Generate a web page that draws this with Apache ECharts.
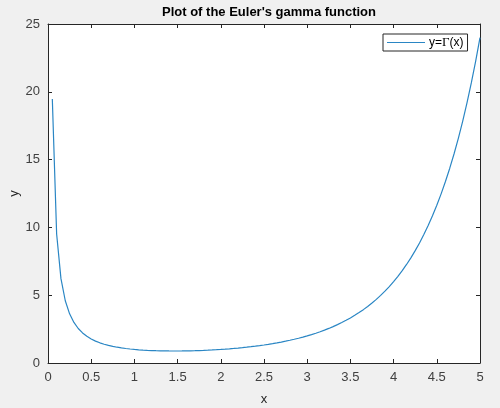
<!DOCTYPE html>
<html><head><meta charset="utf-8">
<script src="https://cdn.jsdelivr.net/npm/echarts@6/dist/echarts.min.js"></script>
<style>html,body{margin:0;padding:0;background:#f0f0f0;}#c{width:500px;height:408px;}</style>
</head><body><div id="c"></div>
<script>
const xValues = [0.05,0.10,0.15,0.20,0.25,0.30,0.35,0.40,0.45,0.50,0.55,0.60,0.65,0.70,0.75,0.80,0.85,0.90,0.95,1.00,
1.05,1.10,1.15,1.20,1.25,1.30,1.35,1.40,1.45,1.50,1.55,1.60,1.65,1.70,1.75,1.80,1.85,1.90,1.95,2.00,
2.05,2.10,2.15,2.20,2.25,2.30,2.35,2.40,2.45,2.50,2.55,2.60,2.65,2.70,2.75,2.80,2.85,2.90,2.95,3.00,
3.05,3.10,3.15,3.20,3.25,3.30,3.35,3.40,3.45,3.50,3.55,3.60,3.65,3.70,3.75,3.80,3.85,3.90,3.95,4.00,
4.05,4.10,4.15,4.20,4.25,4.30,4.35,4.40,4.45,4.50,4.55,4.60,4.65,4.70,4.75,4.80,4.85,4.90,4.95,5.00];
const gammaValues = [19.470,9.514,6.220,4.591,3.625,2.992,2.546,2.218,1.968,1.772,1.616,1.489,1.385,1.298,1.225,1.164,1.111,1.069,1.031,1.000,
0.9735,0.9514,0.9330,0.9182,0.9064,0.8975,0.8912,0.8873,0.8857,0.8862,0.8889,0.8935,0.9001,0.9086,0.9191,0.9314,0.9456,0.9618,0.9799,1.000,
1.0222,1.0465,1.0730,1.1018,1.1330,1.1667,1.2031,1.2422,1.2843,1.3293,1.3778,1.4296,1.4852,1.5446,1.6084,1.6765,1.7494,1.8274,1.9108,2.000,
2.0955,2.1976,2.3070,2.4240,2.5493,2.6834,2.8273,2.9813,3.1465,3.3234,3.5134,3.7170,3.9358,4.1704,4.4231,4.6942,4.9858,5.2995,5.6369,6.000,
6.3913,6.8126,7.2671,7.7568,8.2852,8.8552,9.4715,10.136,10.855,11.632,12.473,13.381,14.366,15.430,16.587,17.838,19.195,20.668,22.266,24.000];
const xTicks = [0,0.5,1,1.5,2,2.5,3,3.5,4,4.5,5];
const yTicks = [0,5,10,15,20,25];
const titleText = "Plot of the Euler's gamma function";
const seriesName = 'y=Γ(x)';

const axisColor = '#262626';
const lineColor = '#2a86c4';
const font = 'Liberation Sans, Arial, sans-serif';
const chart = echarts.init(document.getElementById('c'));
const pts = xValues.map((x,i)=>[x,gammaValues[i]]);
const common = {
  axisLine:{show:true,onZero:false,lineStyle:{color:axisColor,width:1}},
  axisTick:{show:true,inside:true,length:4,lineStyle:{color:axisColor}},
  splitLine:{show:false}
};
chart.setOption({
  animation:false,
  backgroundColor:'#f0f0f0',
  title:{text:titleText,left:264,textAlign:'center',top:1,
    textStyle:{fontFamily:font,fontSize:13,fontWeight:'bold',color:'#000'}},
  legend:{data:[seriesName],left:383,top:34,icon:'rect',itemWidth:38,itemHeight:1.2,itemGap:0,
    padding:[2,4,2,4],backgroundColor:'#fff',borderColor:'#262626',borderWidth:1,borderRadius:0,
    itemStyle:{color:lineColor},
    formatter:()=>'y={g|Γ}(x)',
    textStyle:{fontFamily:font,fontSize:12,color:'#000',padding:[0,0,0,-1],rich:{g:{fontFamily:'Liberation Serif, serif',fontSize:13,color:'#000'}}}},
  grid:[{left:48,right:20,top:24,bottom:45,show:true,backgroundColor:'#fff',borderWidth:0,containLabel:false,outerBoundsMode:'none'}],
  xAxis:[
    Object.assign({type:'value',min:0,max:5,interval:0.5,position:'bottom',
      name:'x',nameLocation:'middle',nameGap:30,nameMoveOverlap:false,nameTextStyle:{fontFamily:font,fontSize:13,color:'#262626'},
      axisLabel:{fontFamily:font,fontSize:13,color:'#404040',margin:8,formatter:v=>String(v)}},common),
    Object.assign({type:'value',min:0,max:5,interval:0.5,position:'top',axisLabel:{show:false}},common)
  ],
  yAxis:[
    Object.assign({type:'value',min:0,max:25,interval:5,position:'left',
      name:'y',nameLocation:'middle',nameGap:27,nameRotate:90,nameMoveOverlap:false,nameTextStyle:{fontFamily:font,fontSize:13,color:'#262626'},
      axisLabel:{fontFamily:font,fontSize:13,color:'#404040',margin:8}},common),
    Object.assign({type:'value',min:0,max:25,interval:5,position:'right',axisLabel:{show:false}},common)
  ],
  series:[{name:seriesName,type:'line',data:pts,xAxisIndex:0,yAxisIndex:0,symbol:'none',
    lineStyle:{color:lineColor,width:1.2},itemStyle:{color:lineColor}}]
});
</script></body></html>
